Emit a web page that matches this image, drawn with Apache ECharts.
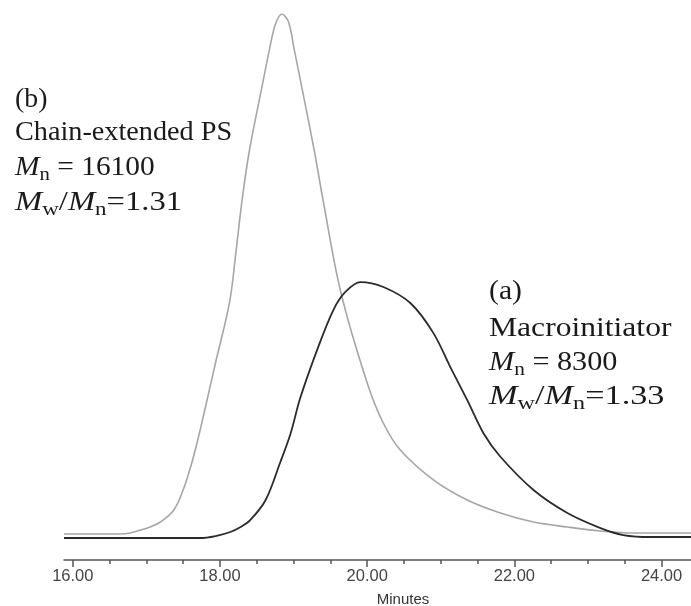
<!DOCTYPE html>
<html>
<head>
<meta charset="utf-8">
<script src="https://cdn.jsdelivr.net/npm/echarts@6/dist/echarts.min.js"></script>
<style>html,body{margin:0;padding:0;background:#fff}#c{width:691px;height:606px}</style>
</head>
<body>
<div id="c"></div>
<script>
// Elution time (minutes) and detector response (relative)
const timeB = [15.88,16.65,16.78,16.92,17.05,17.19,17.37,17.50,17.62,17.73,17.94,18.13,18.22,18.30,18.40,18.58,18.67,18.75,18.84,18.93,19.01,19.10,19.28,19.40,19.64,20.00,20.22,20.45,20.90,21.36,21.81,22.26,22.72,23.17,23.62,24.40];
const respB = [0.76,0.76,0.95,1.5,2.1,3.05,5.3,9.2,14.5,20.6,33.5,45.0,55.0,64.5,74.0,86.8,93.1,97.9,100,98.5,93.1,86.8,74.0,64.5,47.0,29.6,21.9,16.8,11.1,7.25,4.77,3.05,2.1,1.34,0.95,0.95];
const timeA = [15.88,17.73,17.94,18.14,18.28,18.41,18.62,18.82,18.96,19.09,19.32,19.54,19.70,19.91,20.22,20.59,20.90,21.13,21.36,21.58,21.81,22.26,22.72,23.17,23.48,23.85,24.40];
const respA = [0,0,0.38,1.15,2.1,3.4,7.25,14.5,20.0,26.7,35.9,43.5,46.9,48.85,47.9,44.8,39.1,32.6,26.3,20.0,15.5,9.16,4.77,1.9,0.57,0.19,0.19];
const majorTicks = [16,18,20,22,24];
const minorTicks = [16.5,17,17.5,18.5,19,19.5,20.5,21,21.5,22.5,23,23.5];
const axisName = 'Minutes';
const labelB = ['(b)', 'Chain-extended PS', '{i|M}{s|n}{r| = 16100}', '{i|M}{s|w}{r|/}{i|M}{s|n}{r|=1.31}'];
const labelA = ['(a)', 'Macroinitiator', '{i|M}{s|n}{r| = 8300}', '{i|M}{s|w}{r|/}{i|M}{s|n}{r|=1.33}'];

const zip = (t, v) => t.map((x, i) => [x, v[i]]);
const serif = 'Liberation Serif, Times New Roman, serif';
const fs = 27, lh = 34;
const rich = {
  i: {fontFamily: serif, fontStyle: 'italic', fontSize: fs, lineHeight: lh, fill: '#1a1a1a'},
  s: {fontFamily: serif, fontSize: 19, lineHeight: lh, verticalAlign: 'bottom', fill: '#1a1a1a'},
  r: {fontFamily: serif, fontSize: fs, lineHeight: lh, fill: '#1a1a1a'}
};
function textLines(lines, x, ys, sx) {
  return lines.map((t, k) => ({
    type: 'text', x: x, y: ys[k], scaleX: sx[k],
    style: {text: t.indexOf('{') >= 0 ? t : '{r|' + t + '}', rich: rich, verticalAlign: 'middle', align: 'left'}
  }));
}

const chart = echarts.init(document.getElementById('c'));
const axisCommon = {type: 'value', min: 15.88, max: 24.4, position: 'bottom', offset: 22, splitLine: {show: false}};
chart.setOption({
  animation: false,
  backgroundColor: '#fff',
  grid: {left: 64, right: 0, top: 14, bottom: 68},
  xAxis: [
    Object.assign({}, axisCommon, {
      axisLine: {show: true, onZero: false, lineStyle: {color: '#555', width: 1.5}},
      axisTick: {show: true, customValues: majorTicks, length: 7, lineStyle: {color: '#555', width: 1.5}},
      axisLabel: {customValues: majorTicks, formatter: v => v.toFixed(2), fontFamily: 'Liberation Sans, Arial, sans-serif', fontSize: 16.5, color: '#444', margin: 8}
    }),
    Object.assign({}, axisCommon, {
      axisLine: {show: false, onZero: false},
      axisTick: {show: true, customValues: minorTicks, length: 4, lineStyle: {color: '#555', width: 1.5}},
      axisLabel: {show: false}
    })
  ],
  yAxis: {type: 'value', min: 0, max: 100, show: false},
  series: [
    {type: 'line', name: '(b)', data: zip(timeB, respB), xAxisIndex: 0, smooth: 0.35, showSymbol: false, lineStyle: {color: '#a6a6a6', width: 1.6}},
    {type: 'line', name: '(a)', data: zip(timeA, respA), xAxisIndex: 0, smooth: 0.35, showSymbol: false, lineStyle: {color: '#2b2b2b', width: 1.8}}
  ],
  graphic: [
    {type: 'text', x: 403, y: 600, style: {text: axisName, fontFamily: 'Liberation Sans, Arial, sans-serif', fontSize: 15, fill: '#333', align: 'center', verticalAlign: 'middle'}}
  ].concat(textLines(labelB, 15, [100, 133, 168, 203], [1.03, 1.045, 1.09, 1.21]))
   .concat(textLines(labelA, 489, [292, 329, 363, 397], [1.1, 1.17, 1.12, 1.27]))
});
</script>
</body>
</html>
